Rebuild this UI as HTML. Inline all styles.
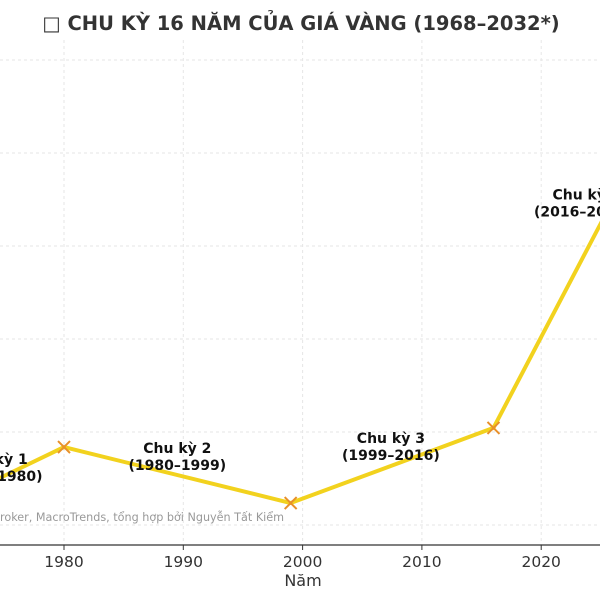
<!DOCTYPE html>
<html><head><meta charset="utf-8"><style>
body{margin:0;background:#fff;}
svg{display:block;font-family:"DejaVu Sans","Liberation Sans",sans-serif;}
</style></head><body>
<svg id="chart" width="600" height="600">
<text x="301" y="30" text-anchor="middle" font-size="19.5" font-weight="bold" fill="#333">□ CHU KỲ 16 NĂM CỦA GIÁ VÀNG (1968–2032*)</text>
<g id="grid"></g><g id="axis"></g><g id="series"></g><g id="labels"></g>
<text x="0" y="521" font-size="11.2" fill="#999">roker, MacroTrends, tổng hợp bởi Nguyễn Tất Kiểm</text>
<text x="303" y="586" text-anchor="middle" font-size="16" fill="#333">Năm</text>
</svg>
<script>
const years=[1968,1980,1999,2016,2032];
const values=[48,419,118,522,2478];
const markerYears=[1980,1999,2016];
const markerValues=[419,118,522];
const xTicks=[1980,1990,2000,2010,2020];
const yGrid=[0,500,1000,1500,2000,2500];
const cycleLabels=[["Chu kỳ 1","(1968–1980)",1974.1,328],["Chu kỳ 2","(1980–1999)",1989.5,387],["Chu kỳ 3","(1999–2016)",2007.4,441],["Chu kỳ 4","(2016–2032*)",2023.8,1750]];
const NS="http://www.w3.org/2000/svg";
const X=y=>64+(y-1980)*11.93;
const Y=v=>525-v*93/500;
function mk(t,a,p){const e=document.createElementNS(NS,t);for(const k in a)e.setAttribute(k,a[k]);p.appendChild(e);return e;}
const grid=document.getElementById('grid'),axis=document.getElementById('axis'),series=document.getElementById('series'),labels=document.getElementById('labels');
yGrid.forEach(v=>{const l=mk('line',{x1:0,x2:600,y1:Y(v),y2:Y(v),stroke:'#e6e6e6','stroke-dasharray':'3,3'},grid);

});
xTicks.forEach(t=>{const l=mk('line',{x1:X(t),x2:X(t),y1:40,y2:545,stroke:'#e6e6e6','stroke-dasharray':'3,3'},grid);


const tk=mk('line',{x1:X(t),x2:X(t),y1:545,y2:550,stroke:'#333'},axis);


const tx=mk('text',{x:X(t),y:567,'text-anchor':'middle','font-size':15.5,fill:'#333'},axis);tx.textContent=t;

});
const ax=mk('line',{x1:0,x2:600,y1:545,y2:545,stroke:'#333','stroke-width':1.2},axis);


const pl=mk('polyline',{points:years.map((y,i)=>X(y)+','+Y(values[i])).join(' '),fill:'none',stroke:'#f2d21e','stroke-width':4,'stroke-linejoin':'round'},series);


markerYears.forEach((y,i)=>{const cx=X(y),cy=Y(markerValues[i]),s=6;
const g=mk('path',{d:`M${cx-s},${cy-s}L${cx+s},${cy+s}M${cx-s},${cy+s}L${cx+s},${cy-s}`,stroke:'#e8902a','stroke-width':2},series);

});
cycleLabels.forEach(c=>{const t=mk('text',{x:X(c[2]),y:Y(c[3]),'text-anchor':'middle','font-size':14,'font-weight':'bold',fill:'#111'},labels);
mk('tspan',{x:X(c[2]),dy:0},t).textContent=c[0];
mk('tspan',{x:X(c[2]),dy:17},t).textContent=c[1];

});
</script>
</body></html>
